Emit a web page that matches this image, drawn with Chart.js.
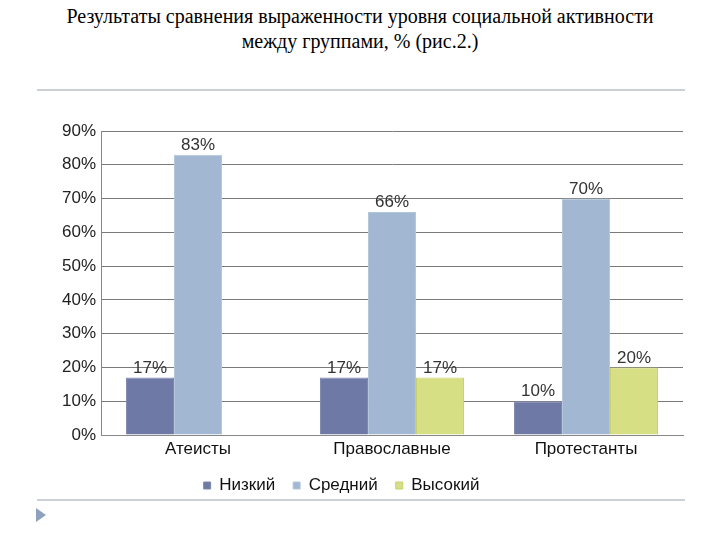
<!DOCTYPE html>
<html>
<head>
<meta charset="utf-8">
<script src="https://cdn.jsdelivr.net/npm/chart.js@4.4.0/dist/chart.umd.min.js"></script>
<style>
  body { margin: 0; background: #fff; }
  #page { position: relative; width: 720px; height: 540px; overflow: hidden; }
  #title { position: absolute; left: 0; top: 4px; width: 720px; text-align: center;
    font-family: "Liberation Serif", "Times New Roman", serif; font-size: 20px; line-height: 25px; color: #000; }
  .rule { position: absolute; left: 37px; width: 648px; height: 2px; background: #cdd1d5; }
  #bullet { position: absolute; left: 36px; top: 508px; width: 0; height: 0;
    border-top: 7px solid transparent; border-bottom: 7px solid transparent; border-left: 10px solid #8ea2bf; }
  #wrap { position: absolute; left: 0; top: 100px; width: 720px; height: 399px; }
</style>
</head>
<body>
<div id="page">
  <div id="title">Результаты сравнения выраженности уровня социальной активности<br>между группами, % (рис.2.)</div>
  <div class="rule" style="top:89px"></div>
  <div id="wrap"><canvas id="chart"></canvas></div>
  <div class="rule" style="top:499px"></div>
  <div id="bullet"></div>
</div>
<script>
// Categories and series
const groups = ['Атеисты', 'Православные', 'Протестанты'];
const lowValues = [17, 17, 10];
const midValues = [83, 66, 70];
const highValues = [0, 17, 20];
const yTicks = [0, 10, 20, 30, 40, 50, 60, 70, 80, 90];

const FONT = '"Liberation Sans", Arial, sans-serif';

// value labels above the bars
const valueLabels = {
  id: 'valueLabels',
  afterDatasetsDraw(chart) {
    const ctx = chart.ctx;
    ctx.save();
    ctx.font = '17px ' + FONT;
    ctx.fillStyle = '#333';
    ctx.textAlign = 'center';
    ctx.textBaseline = 'bottom';
    chart.data.datasets.forEach((ds, i) => {
      chart.getDatasetMeta(i).data.forEach((bar, j) => {
        const v = ds.data[j];
        if (!v) return;
        ctx.fillText(v + '%', bar.x, bar.y - 1);
      });
    });
    ctx.restore();
  }
};

const ctx = document.getElementById('chart').getContext('2d');
new Chart(ctx, {
  type: 'bar',
  data: {
    labels: groups,
    datasets: [
      { label: 'Низкий', data: lowValues, backgroundColor: '#6f79a5', borderColor: '#8088b0', borderWidth: 1 },
      { label: 'Средний', data: midValues, backgroundColor: '#a2b8d2', borderColor: '#b4c6dc', borderWidth: 1 },
      { label: 'Высокий', data: highValues, backgroundColor: '#d6df84', borderColor: '#c8d070', borderWidth: 1 }
    ]
  },
  options: {
    responsive: true,
    maintainAspectRatio: false,
    animation: false,
    layout: { padding: { top: 31, right: 37, left: 0, bottom: 0 } },
    datasets: { bar: { categoryPercentage: 0.742, barPercentage: 1 } },
    plugins: {
      legend: {
        position: 'bottom',
        maxHeight: 40,
        labels: {
          boxWidth: 7, boxHeight: 7, padding: 18, color: '#111',
          font: { size: 17, family: FONT }
        }
      },
      tooltip: { enabled: false }
    },
    scales: {
      x: {
        afterFit(scale) { scale.height = 24; },
        grid: { display: false, drawTicks: false },
        border: { color: '#888', width: 1 },
        ticks: { color: '#111', padding: 6, font: { size: 17, family: FONT, lineHeight: 1 } }
      },
      y: {
        min: 0, max: 90,
        afterFit(scale) { scale.width = 101; },
        afterBuildTicks(scale) { scale.ticks = yTicks.map(v => ({ value: v })); },
        grid: { color: '#7a7a7a', drawTicks: false },
        border: { color: '#888', width: 1 },
        ticks: {
          color: '#222', padding: 5,
          font: { size: 17, family: FONT },
          callback: v => v + '%'
        }
      }
    }
  },
  plugins: [valueLabels]
});
</script>
</body>
</html>
